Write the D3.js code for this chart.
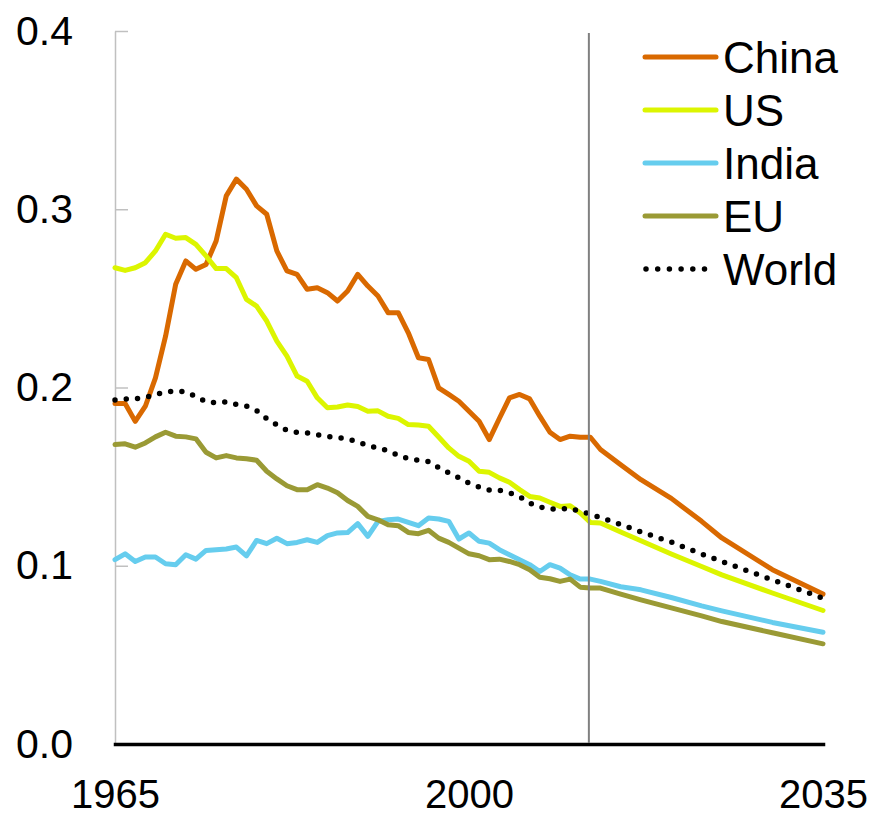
<!DOCTYPE html>
<html>
<head>
<meta charset="utf-8">
<script src="https://cdn.jsdelivr.net/npm/d3@7"></script>
<style>
  html, body { margin: 0; padding: 0; background: #fff; }
  svg { display: block; }
  text { font-family: "Liberation Sans", Arial, sans-serif; fill: #000; }
</style>
</head>
<body>
<svg id="chart" width="875" height="817"></svg>
<script>
// ---------- data ----------
const years = [
  1965,1966,1967,1968,1969,1970,1971,1972,1973,1974,
  1975,1976,1977,1978,1979,1980,1981,1982,1983,1984,
  1985,1986,1987,1988,1989,1990,1991,1992,1993,1994,
  1995,1996,1997,1998,1999,2000,2001,2002,2003,2004,
  2005,2006,2007,2008,2009,2010,2011,2012,
  2013,2015,2017,2020,2023,2025,2030,2035
];
const china = [
  0.191,0.191,0.181,0.1895,0.2054,0.2288,0.2579,0.271,0.2663,0.269,
  0.2822,0.3075,0.3169,0.3112,0.3019,0.2972,0.2766,0.2654,0.2635,0.2551,
  0.256,0.2532,0.2485,0.2541,0.2635,0.2569,0.2513,0.242,0.242,0.2307,
  0.2167,0.2157,0.1998,0.1961,0.1923,0.1867,0.1811,0.1708,0.1826,0.1942,
  0.1961,0.1936,0.1839,0.1749,0.1708,0.1727,0.1721,0.1721,
  0.1652,0.1567,0.1483,0.1378,0.1249,0.1156,0.0978,0.0841
];
const us = [
  0.2672,0.2657,0.2672,0.270,0.2766,0.286,0.2837,0.2841,0.2803,0.2738,
  0.2667,0.2667,0.2616,0.2494,0.2457,0.2373,0.226,0.2176,0.2064,0.2035,
  0.1942,0.1886,0.1891,0.1902,0.1893,0.1867,0.1869,0.1839,0.1827,0.1792,
  0.1789,0.1783,0.1722,0.1661,0.1614,0.1586,0.153,0.1524,0.1493,0.1468,
  0.1427,0.1389,0.138,0.1356,0.1333,0.1337,0.1296,0.1243,
  0.124,0.1189,0.114,0.1066,0.0996,0.0949,0.0847,0.0749
];
const india = [
  0.1034,0.1067,0.1024,0.1049,0.1049,0.1011,0.1006,0.1062,0.1037,0.1086,
  0.109,0.1094,0.1105,0.1056,0.1142,0.1124,0.1154,0.1124,0.1131,0.1146,
  0.1131,0.1169,0.1184,0.1186,0.1236,0.1165,0.1249,0.1258,0.1262,0.1243,
  0.1225,0.1268,0.1262,0.1249,0.115,0.1184,0.1137,0.1127,0.109,0.1062,
  0.1034,0.1006,0.0968,0.1006,0.0987,0.0949,0.0925,0.0925,
  0.0912,0.0882,0.0865,0.0822,0.0775,0.0747,0.0682,0.0627
];
const eu = [
  0.168,0.1684,0.1665,0.1689,0.1723,0.1749,0.1727,0.1723,0.1712,0.1637,
  0.1605,0.1618,0.1605,0.16,0.1592,0.153,0.1487,0.1449,0.1427,0.1427,
  0.1455,0.1436,0.141,0.1366,0.1333,0.1277,0.1258,0.123,0.1225,0.1187,
  0.118,0.1199,0.1155,0.1131,0.1099,0.1067,0.1056,0.1034,0.1037,0.1024,
  0.1006,0.0978,0.0936,0.0927,0.0912,0.0925,0.088,0.0875,
  0.0875,0.0841,0.0809,0.0764,0.0719,0.0687,0.0624,0.0562
];
const world = [
  0.193,0.1935,0.1937,0.1945,0.196,0.1975,0.198,0.1975,0.195,0.192,
  0.1915,0.192,0.1905,0.1895,0.187,0.1825,0.179,0.176,0.1748,0.1745,
  0.1735,0.1725,0.172,0.1712,0.1695,0.1675,0.166,0.1645,0.162,0.16,
  0.1592,0.1585,0.155,0.1521,0.1493,0.1463,0.1442,0.1425,0.1423,0.141,
  0.1388,0.1352,0.133,0.1318,0.1318,0.1322,0.1305,0.129,
  0.127,0.1232,0.119,0.1133,0.1066,0.1024,0.0921,0.0818
];
const seriesNames = ["China", "US", "India", "EU", "World"];
const seriesColors = ["#d96900", "#dcf500", "#66cdee", "#9a9a35", "#000000"];
const yTicks = [0.0, 0.1, 0.2, 0.3, 0.4];
const xTicks = [1965, 2000, 2035];
const lastHistoricYear = 2012;

// ---------- chart ----------
const svg = d3.select("#chart");
const x = d3.scaleLinear().domain([1965, 2035]).range([115, 823]);
const y = d3.scaleLinear().domain([0, 0.4]).range([744, 31]);

// y axis (ticks pointing inward)
const yAxis = svg.append("g")
  .attr("transform", `translate(${x(1965)},0)`)
  .call(d3.axisLeft(y).tickValues(yTicks).tickFormat(d3.format(".1f"))
        .tickSizeInner(-13).tickSizeOuter(0).tickPadding(42));
yAxis.select(".domain").attr("stroke", "#c0c0c0").attr("stroke-width", 1.5);
yAxis.selectAll(".tick line").attr("stroke", "#c0c0c0").attr("stroke-width", 1.5);
yAxis.selectAll(".tick text").attr("font-size", 41).attr("fill", "#000")
  .style("font-family", '"Liberation Sans", Arial, sans-serif');
yAxis.selectAll(".tick").filter(d => d === 0).select("line").remove();

// series lines
const series = [china, us, india, eu, world];
const line = d3.line().x((d, i) => x(years[i])).y(d => y(d));
series.forEach((vals, k) => {
  const p = svg.append("path")
    .datum(vals)
    .attr("fill", "none")
    .attr("stroke", seriesColors[k])
    .attr("stroke-linejoin", "round")
    .attr("stroke-linecap", "round")
    .attr("d", line);
  if (seriesNames[k] === "World") {
    p.attr("stroke-width", 5.5).attr("stroke-dasharray", "0 11.3");
  } else {
    p.attr("stroke-width", 5);
  }
});

// x axis
const xAxis = svg.append("g")
  .attr("transform", `translate(0,${y(0)})`)
  .call(d3.axisBottom(x).tickValues(xTicks).tickFormat(d3.format("d"))
        .tickSize(0).tickPadding(35.5));
xAxis.select(".domain").attr("stroke", "#000").attr("stroke-width", 3.5)
  .attr("stroke-linecap", "square");
xAxis.selectAll(".tick text").attr("font-size", 40).attr("fill", "#000")
  .style("font-family", '"Liberation Sans", Arial, sans-serif');

// divider between history and projection
svg.append("line")
  .attr("x1", x(lastHistoricYear) - 1.5).attr("x2", x(lastHistoricYear) - 1.5)
  .attr("y1", y(0.4) + 2).attr("y2", y(0) - 1)
  .attr("stroke", "#808080").attr("stroke-width", 2);

// legend
const legend = svg.append("g");
seriesNames.forEach((name, k) => {
  const cy = 57 + k * 53;
  const l = legend.append("line")
    .attr("x1", 645).attr("x2", 716).attr("y1", cy).attr("y2", cy)
    .attr("stroke", seriesColors[k]).attr("stroke-linecap", "round");
  if (name === "World") {
    l.attr("x1", 646).attr("x2", 710).attr("stroke-width", 5.5)
     .attr("stroke-dasharray", "0 11.7");
  } else {
    l.attr("stroke-width", 5);
  }
  legend.append("text")
    .attr("x", 723).attr("y", cy).attr("dy", "0.36em")
    .attr("font-size", 44).text(name);
});
</script>
</body>
</html>
